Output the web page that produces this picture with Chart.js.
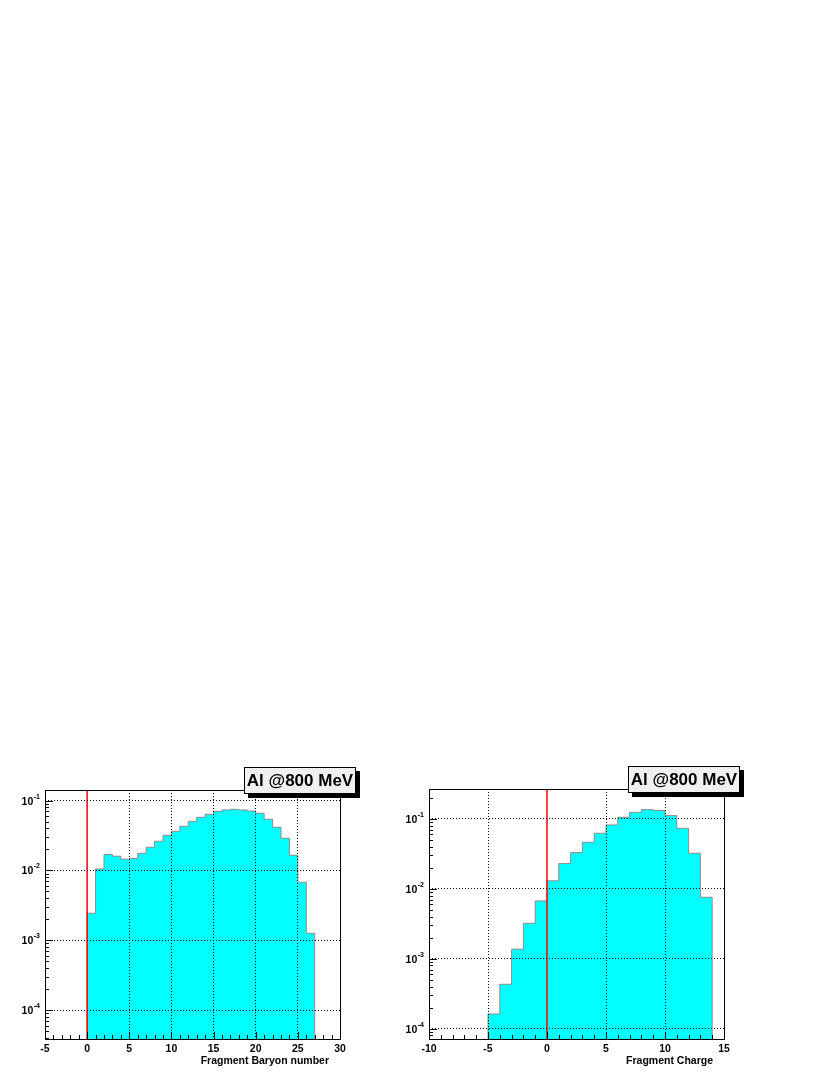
<!DOCTYPE html>
<html lang="en">
<head>
  <meta charset="UTF-8">
  <meta name="viewport" content="width=device-width, initial-scale=1.0">
  <title>Al @800 MeV fragments</title>
  <!-- Chart.js Library -->
  <script src="https://cdn.jsdelivr.net/npm/chart.js"></script>
  <style>
    body { margin: 0; background: #fff; }
    #page { position: relative; width: 830px; height: 1075px; }
    .panel { position: absolute; top: 760px; height: 315px; }
  </style>
</head>
<body>
  <div id="page">
    <div class="panel" style="left:0;width:415px"><canvas id="baryonChart"></canvas></div>
    <div class="panel" style="left:384px;width:446px"><canvas id="chargeChart"></canvas></div>
  </div>

<script>
  // Fragment baryon number, unit bins starting at A = 0
  const baryonStart = 0;
  const baryonValues = [
    0.00244, 0.0105, 0.0169, 0.0160, 0.0145, 0.0148, 0.0176, 0.0215, 0.0262,
    0.0319, 0.0364, 0.0429, 0.0506, 0.0577, 0.0637, 0.0703, 0.0735, 0.0751,
    0.0735, 0.0710, 0.0659, 0.0541, 0.0415, 0.0289, 0.0165, 0.00678, 0.00126
  ];
  const baryonXRange = [-5, 30];
  const baryonYRange = [3.85e-5, 0.142];

  // Fragment charge, unit bins starting at Z = -5
  const chargeStart = -5;
  const chargeValues = [
    1.62e-4, 4.31e-4, 0.00137, 0.00321, 0.00671, 0.0130, 0.0230, 0.0330,
    0.0463, 0.0624, 0.0820, 0.1056, 0.1245, 0.136, 0.1316, 0.1116, 0.0735,
    0.0323, 0.00757
  ];
  const chargeXRange = [-10, 15];
  const chargeYRange = [7.1e-5, 0.268];

  const xMajorStep = 5;
  const decadeTicks = [1e-4, 1e-3, 1e-2, 1e-1];
  const markerX = 0;
  const boxTitle = 'Al @800 MeV';

  const FONT = "'Liberation Sans', Arial, Helvetica, sans-serif";

  // histogram outline: left edge of each bin, closed down to the axis floor
  function histPoints(start, values, floor) {
    const pts = [{ x: start, y: floor }];
    values.forEach((v, i) => pts.push({ x: start + i, y: v }));
    pts.push({ x: start + values.length, y: values[values.length - 1] });
    pts.push({ x: start + values.length, y: floor });
    return pts;
  }

  // ROOT style frame: inner ticks, 10^n labels, axis title and title box
  const rootFrame = {
    id: 'rootFrame',
    afterDraw(chart, args, opts) {
      const { ctx, chartArea: a, scales: { x, y } } = chart;
      ctx.save();
      ctx.strokeStyle = '#000';
      ctx.lineWidth = 1;
      ctx.beginPath();
      for (let v = Math.ceil(x.min); v <= x.max; v++) {
        const px = Math.round(x.getPixelForValue(v)) + 0.5;
        const len = v % xMajorStep === 0 ? 7 : 4;
        ctx.moveTo(px, a.bottom);
        ctx.lineTo(px, a.bottom - len);
      }
      const e0 = Math.floor(Math.log10(y.min));
      const e1 = Math.ceil(Math.log10(y.max));
      for (let e = e0; e <= e1; e++) {
        for (let k = 1; k <= 9; k++) {
          const v = k * Math.pow(10, e);
          if (v < y.min || v > y.max) continue;
          const py = Math.round(y.getPixelForValue(v)) + 0.5;
          ctx.moveTo(a.left, py);
          ctx.lineTo(a.left + (k === 1 ? 8 : 4), py);
        }
      }
      ctx.stroke();

      // frame
      ctx.strokeRect(a.left + 0.5, a.top + 0.5, a.right - a.left, a.bottom - a.top);

      // y labels as 10 with exponent
      ctx.fillStyle = '#000';
      ctx.textAlign = 'right';
      ctx.textBaseline = 'alphabetic';
      y.ticks.forEach(t => {
        const py = y.getPixelForValue(t.value);
        const sup = String(Math.round(Math.log10(t.value)));
        ctx.font = 'bold 7px ' + FONT;
        const supW = ctx.measureText(sup).width;
        ctx.fillText(sup, a.left - 5, py - 2);
        ctx.font = 'bold 10.5px ' + FONT;
        ctx.fillText('10', a.left - 5 - supW - 0.5, py + 4);
      });

      // axis title
      ctx.font = 'bold 10.5px ' + FONT;
      ctx.fillText(opts.xTitle, a.right - 11, a.bottom + 25);

      // title box with shadow
      const bw = 112, bh = 27;
      const bx = Math.round(a.right + 16 - bw), by = Math.round(a.top - 23);
      ctx.fillStyle = '#000';
      ctx.fillRect(bx + 4, by + 4, bw, bh);
      ctx.fillStyle = '#f0f0f0';
      ctx.fillRect(bx, by, bw, bh);
      ctx.strokeRect(bx + 0.5, by + 0.5, bw - 1, bh - 1);
      ctx.fillStyle = '#000';
      ctx.textAlign = 'center';
      ctx.textBaseline = 'middle';
      ctx.font = 'bold 17px ' + FONT;
      ctx.fillText(boxTitle, bx + bw / 2, by + bh / 2 + 1);
      ctx.restore();
    }
  };

  function makeChart(id, start, values, xRange, yRange, xTitle, padTop, padRight) {
    const ctx = document.getElementById(id).getContext('2d');
    return new Chart(ctx, {
      type: 'line',
      data: {
        datasets: [
          {
            data: [{ x: markerX, y: yRange[0] }, { x: markerX, y: yRange[1] }],
            borderColor: '#ff0000',
            borderWidth: 1.5,
            pointRadius: 0,
            fill: false
          },
          {
            data: histPoints(start, values, yRange[0]),
            stepped: 'before',
            borderColor: '#8c8c8c',
            borderWidth: 1,
            backgroundColor: '#00ffff',
            pointRadius: 0,
            fill: 'start'
          }
        ]
      },
      options: {
        responsive: true,
        maintainAspectRatio: false,
        animation: false,
        layout: { padding: { top: padTop, right: padRight, left: 0, bottom: 0 } },
        plugins: {
          legend: { display: false },
          tooltip: { enabled: false },
          rootFrame: { xTitle: xTitle }
        },
        scales: {
          x: {
            type: 'linear',
            min: xRange[0],
            max: xRange[1],
            afterFit: s => { s.height = 36; },
            ticks: {
              stepSize: xMajorStep,
              autoSkip: false,
              maxRotation: 0,
              padding: 4,
              color: '#000',
              font: { family: FONT, size: 10.5, weight: 'bold' }
            },
            grid: {
              z: 1,
              drawTicks: false,
              lineWidth: 1,
              color: c => (c.tick && c.tick.value === markerX ? 'rgba(0,0,0,0)' : '#000')
            },
            border: { display: false, dash: [1, 2] }
          },
          y: {
            type: 'logarithmic',
            min: yRange[0],
            max: yRange[1],
            bounds: 'data',
            afterBuildTicks: s => {
              s.ticks = decadeTicks.filter(v => v >= s.min && v <= s.max).map(v => ({ value: v }));
            },
            afterFit: s => { s.width = 45; },
            ticks: { display: false },
            grid: { z: 1, drawTicks: false, lineWidth: 1, color: '#000' },
            border: { display: false, dash: [1, 2] }
          }
        }
      },
      plugins: [rootFrame]
    });
  }

  makeChart('baryonChart', baryonStart, baryonValues, baryonXRange, baryonYRange,
    'Fragment Baryon number', 30, 75);
  makeChart('chargeChart', chargeStart, chargeValues, chargeXRange, chargeYRange,
    'Fragment Charge', 29, 106);
</script>
</body>
</html>
